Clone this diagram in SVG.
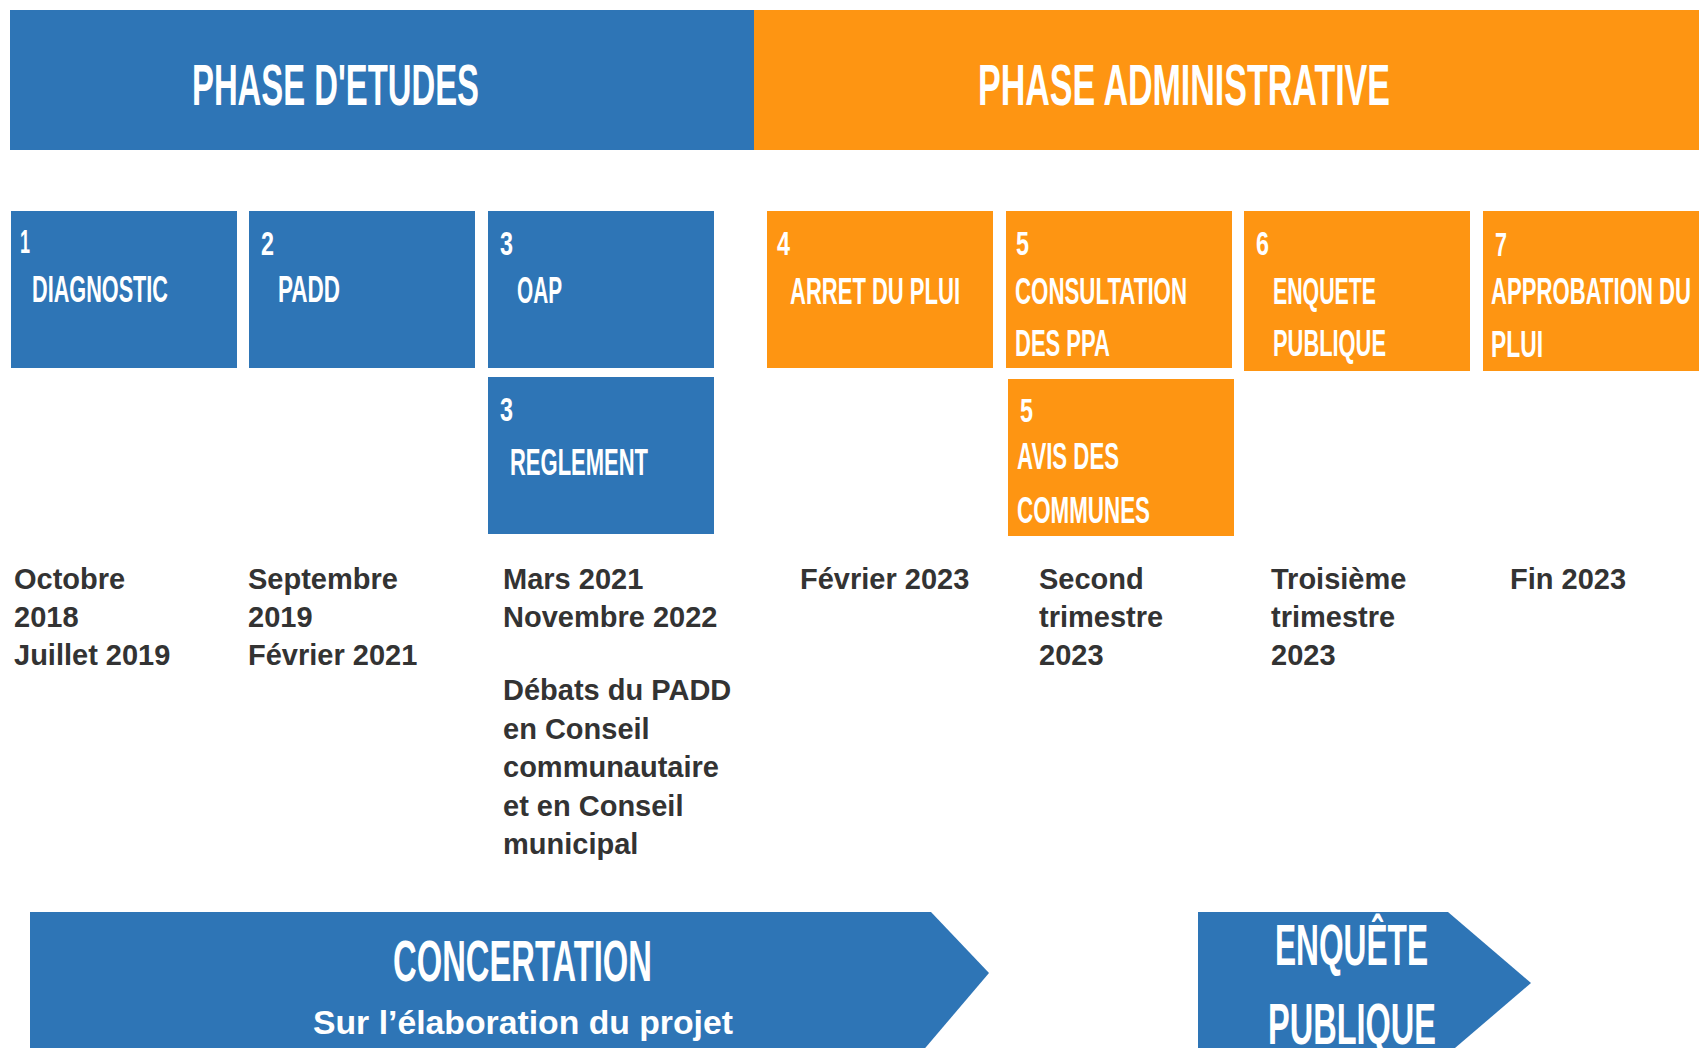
<svg xmlns="http://www.w3.org/2000/svg" width="1699" height="1048" viewBox="0 0 1699 1048">
<style>
.blue{fill:#2E75B6}
.orange{fill:#FE9512}
.cond{font-family:"Liberation Sans Narrow","Liberation Sans",sans-serif;font-weight:bold;fill:#fff}
.h{font-size:58px}
.lab{font-size:37px}
.num{font-size:33px}
.date{font-family:"Liberation Sans",Arial,sans-serif;font-weight:bold;font-size:29px;fill:#333333}
.sub{font-family:"Liberation Sans",Arial,sans-serif;font-weight:bold;font-size:33px;fill:#fff}
</style>
<rect width="1699" height="1048" fill="#ffffff"/>
<g id="phase-etudes">
<rect class="blue" x="10" y="10" width="744" height="140"/>
<text class="cond h" x="192" y="105" textLength="287" lengthAdjust="spacingAndGlyphs">PHASE D'ETUDES</text>
</g>
<g id="phase-administrative">
<rect class="orange" x="754" y="10" width="945" height="140"/>
<text class="cond h" x="978" y="105" textLength="412" lengthAdjust="spacingAndGlyphs">PHASE ADMINISTRATIVE</text>
</g>
<g id="step1">
<rect class="blue" x="11" y="211" width="226" height="157"/>
<text class="cond num" x="20" y="253" textLength="10" lengthAdjust="spacingAndGlyphs">1</text>
<text class="cond lab" x="32" y="302" textLength="136" lengthAdjust="spacingAndGlyphs">DIAGNOSTIC</text>
</g>
<g id="step2">
<rect class="blue" x="249" y="211" width="226" height="157"/>
<text class="cond num" x="261" y="255" textLength="13" lengthAdjust="spacingAndGlyphs">2</text>
<text class="cond lab" x="278" y="302" textLength="62" lengthAdjust="spacingAndGlyphs">PADD</text>
</g>
<g id="step3-oap">
<rect class="blue" x="488" y="211" width="226" height="157"/>
<text class="cond num" x="500" y="255" textLength="13" lengthAdjust="spacingAndGlyphs">3</text>
<text class="cond lab" x="517" y="303" textLength="45" lengthAdjust="spacingAndGlyphs">OAP</text>
</g>
<g id="step3-reglement">
<rect class="blue" x="488" y="377" width="226" height="157"/>
<text class="cond num" x="500" y="421" textLength="13" lengthAdjust="spacingAndGlyphs">3</text>
<text class="cond lab" x="510" y="475" textLength="138" lengthAdjust="spacingAndGlyphs">REGLEMENT</text>
</g>
<g id="step4">
<rect class="orange" x="767" y="211" width="226" height="157"/>
<text class="cond num" x="777" y="255" textLength="13" lengthAdjust="spacingAndGlyphs">4</text>
<text class="cond lab" x="790" y="304" textLength="170" lengthAdjust="spacingAndGlyphs">ARRET DU PLUI</text>
</g>
<g id="step5-consultation">
<rect class="orange" x="1006" y="211" width="226" height="157"/>
<text class="cond num" x="1016" y="255" textLength="13" lengthAdjust="spacingAndGlyphs">5</text>
<text class="cond lab" x="1015" y="304" textLength="172" lengthAdjust="spacingAndGlyphs">CONSULTATION</text>
<text class="cond lab" x="1015" y="356" textLength="95" lengthAdjust="spacingAndGlyphs">DES PPA</text>
</g>
<g id="step5-avis">
<rect class="orange" x="1008" y="379" width="226" height="157"/>
<text class="cond num" x="1020" y="422" textLength="13" lengthAdjust="spacingAndGlyphs">5</text>
<text class="cond lab" x="1017" y="469" textLength="102" lengthAdjust="spacingAndGlyphs">AVIS DES</text>
<text class="cond lab" x="1017" y="523" textLength="133" lengthAdjust="spacingAndGlyphs">COMMUNES</text>
</g>
<g id="step6">
<rect class="orange" x="1244" y="211" width="226" height="160"/>
<text class="cond num" x="1256" y="255" textLength="13" lengthAdjust="spacingAndGlyphs">6</text>
<text class="cond lab" x="1273" y="304" textLength="103" lengthAdjust="spacingAndGlyphs">ENQUETE</text>
<text class="cond lab" x="1273" y="356" textLength="113" lengthAdjust="spacingAndGlyphs">PUBLIQUE</text>
</g>
<g id="step7">
<rect class="orange" x="1483" y="211" width="216" height="160"/>
<text class="cond num" x="1495" y="256" textLength="12" lengthAdjust="spacingAndGlyphs">7</text>
<text class="cond lab" x="1491" y="304" textLength="200" lengthAdjust="spacingAndGlyphs">APPROBATION DU</text>
<text class="cond lab" x="1491" y="357" textLength="52" lengthAdjust="spacingAndGlyphs">PLUI</text>
</g>
<g id="dates">
<text class="date" x="14" y="589">Octobre</text>
<text class="date" x="14" y="627">2018</text>
<text class="date" x="14" y="665">Juillet 2019</text>
<text class="date" x="248" y="589">Septembre</text>
<text class="date" x="248" y="627">2019</text>
<text class="date" x="248" y="665">Février 2021</text>
<text class="date" x="503" y="589">Mars 2021</text>
<text class="date" x="503" y="627">Novembre 2022</text>
<text class="date" x="503" y="700">Débats du PADD</text>
<text class="date" x="503" y="739">en Conseil</text>
<text class="date" x="503" y="777">communautaire</text>
<text class="date" x="503" y="816">et en Conseil</text>
<text class="date" x="503" y="854">municipal</text>
<text class="date" x="800" y="589">Février 2023</text>
<text class="date" x="1039" y="589">Second</text>
<text class="date" x="1039" y="627">trimestre</text>
<text class="date" x="1039" y="665">2023</text>
<text class="date" x="1271" y="589">Troisième</text>
<text class="date" x="1271" y="627">trimestre</text>
<text class="date" x="1271" y="665">2023</text>
<text class="date" x="1510" y="589">Fin 2023</text>
</g>
<g id="concertation">
<polygon class="blue" points="30,912 931,912 989,973 915,1060 30,1060"/>
<text class="cond h" x="393" y="981" font-size="57" textLength="259" lengthAdjust="spacingAndGlyphs">CONCERTATION</text>
<text class="sub" x="523" y="1034" text-anchor="middle" textLength="420" lengthAdjust="spacingAndGlyphs">Sur l’élaboration du projet</text>
</g>
<g id="enquete-publique">
<polygon class="blue" points="1198,912 1448,912 1531,983 1448,1054 1198,1054"/>
<text class="cond h" x="1275" y="965" textLength="153" lengthAdjust="spacingAndGlyphs">ENQUÊTE</text>
<text class="cond h" x="1268" y="1044" textLength="168" lengthAdjust="spacingAndGlyphs">PUBLIQUE</text>
</g>
<g id="connectors"/>
</svg>
